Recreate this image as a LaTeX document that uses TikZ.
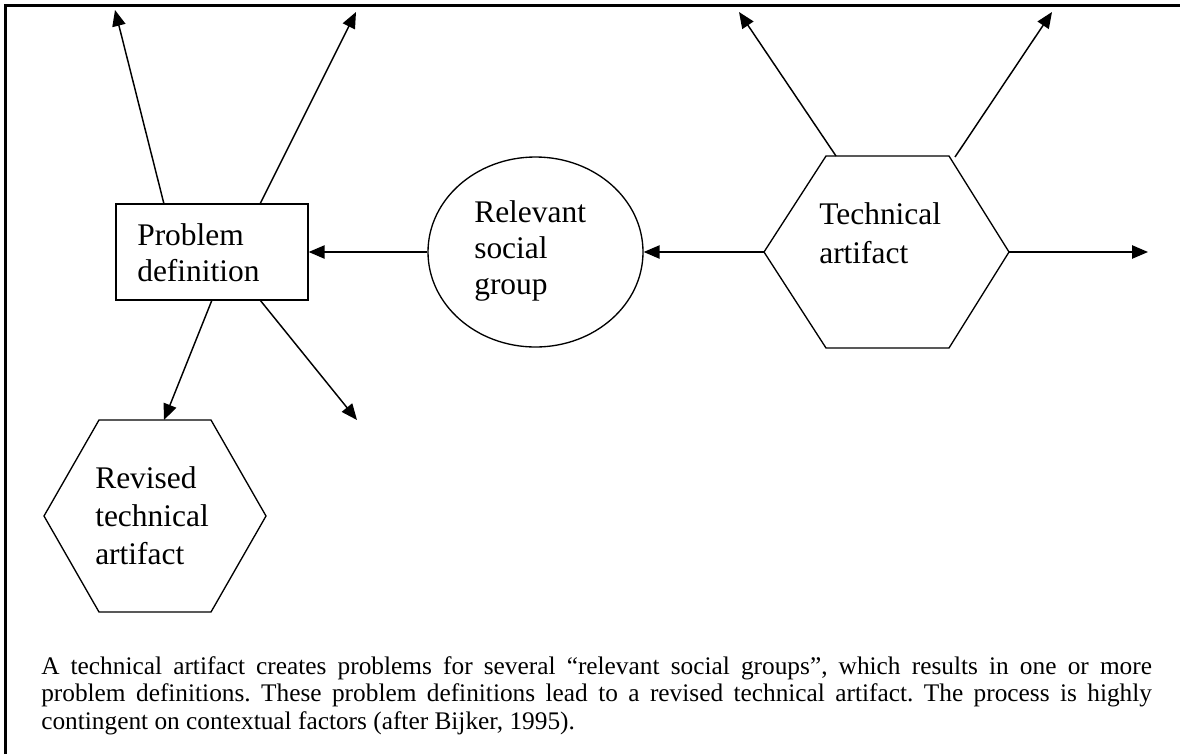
\documentclass[tikz,border=0pt]{standalone}
\usepackage{fontspec}
\setmainfont{Liberation Serif}
\usetikzlibrary{arrows.meta,shapes.geometric}
\begin{document}
\begin{tikzpicture}[x=0.75pt,y=-0.75pt,
  arr/.style={line width=1.1pt,-{Triangle[length=12pt,width=10pt]}},
  shapeline/.style={line width=1pt},
  lbl/.style={anchor=north west, inner sep=0pt, align=left, font=\fontsize{23.6}{27}\selectfont},
  hexlbl/.style={lbl, font=\fontsize{23.6}{28.5}\selectfont},
  frameline/.style={line width=1.7pt}]
\useasboundingbox (0,0) rectangle (1180,754);
\fill[white] (0,0) rectangle (1180,754);
\draw[frameline] (5.5,754) -- (5.5,5.5) -- (1180,5.5);

% Problem definition
\node[draw, shapeline, minimum width=144pt, minimum height=72pt, inner sep=0pt] (pd) at (212,252) {};
\node[lbl] (pdt) at (137,223.5) {Problem\\definition};

% Relevant social group
\node[draw, shapeline, ellipse, minimum width=161.25pt, minimum height=142.5pt, inner sep=0pt] (rsg) at (535.5,252) {};
\node[lbl] (rsgt) at (474,200.5) {Relevant\\social\\group};

% Technical artifact hexagon
\coordinate (ta1) at (764,252);
\coordinate (ta2) at (826,156);
\coordinate (ta3) at (949,156);
\coordinate (ta4) at (1009,252);
\coordinate (ta5) at (949,348);
\coordinate (ta6) at (826,348);
\draw[shapeline, line join=miter] (ta1) -- (ta2) -- (ta3) -- (ta4) -- (ta5) -- (ta6) -- cycle;
\node[hexlbl, font=\fontsize{23.6}{29}\selectfont] (tat) at (819,202.5) {Technical\\artifact};

% Revised technical artifact hexagon
\coordinate (rt1) at (44,516);
\coordinate (rt2) at (99,420);
\coordinate (rt3) at (211,420);
\coordinate (rt4) at (266,516);
\coordinate (rt5) at (211,612);
\coordinate (rt6) at (99,612);
\draw[shapeline, line join=miter] (rt1) -- (rt2) -- (rt3) -- (rt4) -- (rt5) -- (rt6) -- cycle;
\node[hexlbl] (rtt) at (95,466.5) {Revised\\technical\\artifact};

% connector points
\coordinate (pdUL) at (164,204);
\coordinate (pdUR) at (260,204);
\coordinate (pdDL) at (212,300);
\coordinate (pdDR) at (260,300);
\coordinate (rtTop) at (164,420);
\coordinate (e1) at (115,10);
\coordinate (e2) at (356,12);
\coordinate (e3) at (357,420);
\coordinate (taUL) at (836,156);
\coordinate (taUR) at (955,157);
\coordinate (e4) at (739,12);
\coordinate (e5) at (1052,12);
\coordinate (e6) at (1148,252);

\draw[arr] (pdUL) -- (e1);
\draw[arr] (pdUR) -- (e2);
\draw[arr] (pdDL) -- (rtTop);
\draw[arr] (pdDR) -- (e3);
\draw[arr] (rsg.west) -- (pd.east);
\draw[arr] (ta1) -- (rsg.east);
\draw[arr] (taUL) -- (e4);
\draw[arr] (taUR) -- (e5);
\draw[arr] (ta4) -- (e6);

% caption
\node[anchor=north west, inner sep=0pt] (cap) at (41,656)
  {\parbox[t]{833pt}{\fontsize{19}{20.6}\selectfont\baselineskip=20.6pt\frenchspacing A technical artifact creates problems for several “relevant social groups”, which results in one or more\linebreak problem definitions. These problem definitions lead to a revised technical artifact. The process is highly\linebreak contingent on contextual factors (after Bijker, 1995).\par}};
\end{tikzpicture}
\end{document}
